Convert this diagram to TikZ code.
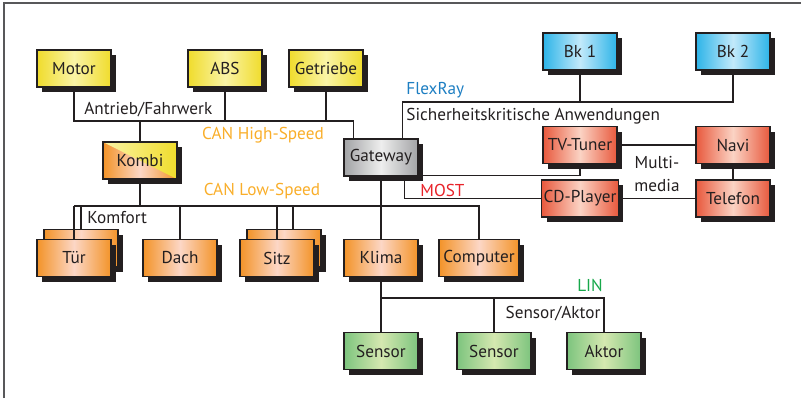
\documentclass[tikz,border=0pt]{standalone}
\usepackage{fontspec}
\setmainfont{PT Sans}
\usetikzlibrary{calc,positioning,shadows,backgrounds}
\definecolor{ink}{HTML}{231F20}
\definecolor{framegray}{HTML}{58585A}
\definecolor{shadowink}{HTML}{231F20}
\definecolor{yellowedge}{HTML}{F0DC2C}
\definecolor{yellowmid}{HTML}{FAF4A6}
\definecolor{blueedge}{HTML}{2DB4E8}
\definecolor{bluemid}{HTML}{C2E9FA}
\definecolor{rededge}{HTML}{E8593D}
\definecolor{redmid}{HTML}{FBD3C4}
\definecolor{orangeedge}{HTML}{F39328}
\definecolor{orangemid}{HTML}{FCD7C6}
\definecolor{greenedge}{HTML}{7DC47E}
\definecolor{greenmid}{HTML}{D5E8B0}
\definecolor{grayedge}{HTML}{A2A3A5}
\definecolor{graymid}{HTML}{EEEEEE}
\definecolor{canorange}{HTML}{F9AE2A}
\definecolor{flexblue}{HTML}{1D7EC2}
\definecolor{mostred}{HTML}{E82229}
\definecolor{lingreen}{HTML}{17A84B}
\tikzset{
  font=\fontsize{8.6}{11.5}\selectfont,
  bus/.style={draw=ink, line width=.6pt},
  frame/.style={draw=framegray, line width=.8pt},
  ecu/.style={draw=ink, line width=.6pt, text=ink, align=center,
    minimum width=37pt, minimum height=18.5pt, inner sep=1pt,
    drop shadow={shadow xshift=2.5pt, shadow yshift=-2.5pt,
      fill=shadowink, opacity=1}},
  yellowbox/.style={ecu, left color=yellowedge, right color=yellowedge,
    middle color=yellowmid},
  bluebox/.style={ecu, left color=blueedge, right color=blueedge,
    middle color=bluemid},
  redbox/.style={ecu, left color=rededge, right color=rededge,
    middle color=redmid},
  orangebox/.style={ecu, left color=orangeedge, right color=orangeedge,
    middle color=orangemid},
  greenbox/.style={ecu, left color=greenedge, right color=greenedge,
    middle color=greenmid},
  graybox/.style={ecu, left color=grayedge, right color=grayedge,
    middle color=graymid},
  kombibox/.style={orangebox, path picture={
    \shade[left color=yellowmid, right color=yellowedge]
      (path picture bounding box.north west)
      -- (path picture bounding box.north east)
      -- (path picture bounding box.south east) -- cycle;}},
  busname/.style={inner sep=0pt, text=ink},
  netname/.style={inner sep=0pt}
}

\begin{document}
\begin{tikzpicture}[x=0.5pt,y=-0.5pt]
  \useasboundingbox (0,0) rectangle (801,398);
  \draw[frame] (4,398) -- (4,3) -- (801,3);

  % ------------------------------------------------------------------
  % Steuergeraete
  \node[yellowbox] (motor) at (74,68.5) {Motor};
  \node[yellowbox] (abs) at (225,68.5) {ABS};
  \node[yellowbox] (getriebe) at (326,68.5) {Getriebe};
  \node[bluebox] (bk1) at (580,51.5) {Bk 1};
  \node[bluebox] (bk2) at (733,51.5) {Bk 2};
  \node[kombibox] (kombi) at (140,160.5) {Kombi};
  \node[graybox] (gateway) at (381,157.5) {Gateway};
  \node[redbox] (tvtuner) at (580,145) {TV-Tuner};
  \node[redbox] (navi) at (733,145) {Navi};
  \node[redbox] (cdplayer) at (580,198.5) {CD-Player};
  \node[redbox] (telefon) at (733,198.5) {Telefon};

  \node[orangebox] (tuerback) at (81,248) {};
  \node[orangebox] (tuer) at (74,258) {Tür};
  \node[orangebox] (dach) at (180,258) {Dach};
  \node[orangebox] (sitzback) at (284,248) {};
  \node[orangebox] (sitz) at (277,258) {Sitz};
  \node[orangebox] (klima) at (381,258) {Klima};
  \node[orangebox, minimum width=40pt] (computer) at (479,258) {Computer};

  \node[greenbox] (sensora) at (381,351) {Sensor};
  \node[greenbox] (sensorb) at (494,351) {Sensor};
  \node[greenbox] (aktor) at (604,351) {Aktor};

  % ------------------------------------------------------------------
  % Bezeichnungen
  \node[busname, anchor=west] (antrieb) at (84,110) {Antrieb/Fahrwerk};
  \node[netname, text=canorange] (canhigh) at (263,135) {CAN High-Speed};
  \node[netname, text=canorange] (canlow) at (262,191) {CAN Low-Speed};
  \node[busname, anchor=west] (komfort) at (87,218) {Komfort};
  \node[netname, text=flexblue, anchor=west] (flexray) at (406,90) {FlexRay};
  \node[busname, anchor=west] (sicher) at (406,116)
    {Sicherheitskritische Anwendungen};
  \node[netname, text=mostred, anchor=west] (most) at (420,190) {MOST};
  \node[busname, align=center] (multimedia) at (657,174) {Multi-\\media};
  \node[netname, text=lingreen] (lin) at (590,285) {LIN};
  \node[busname] (sensoraktor) at (553,314) {Sensor/Aktor};

  % ------------------------------------------------------------------
  % Busleitungen
  \coordinate (frbus) at (0,102);
  \coordinate (hsbus) at (0,121);
  \coordinate (lsbus) at (0,206);
  \coordinate (linbus) at (0,298);
  \coordinate (gwhigh) at ($(gateway.north west)+(10,0)$);
  \coordinate (gwflex) at ($(gateway.north east)+(-16,0)$);
  \coordinate (gwmost) at ($(gateway.south east)+(-14,0)$);
  \coordinate (gwtv) at ($(gateway.south east)+(0,-1)$);
  \path ([xshift=4.5pt]sitzback.north) coordinate (sitzdrop);

  \begin{scope}[on background layer]
    % CAN High-Speed
    \draw[bus] (motor.south) -- (motor.south |- hsbus) -| (gwhigh);
    \draw[bus] (abs.south) -- (abs.south |- hsbus);
    \draw[bus] (getriebe.south) -- (getriebe.south |- hsbus);
    \draw[bus] (kombi.north) -- (kombi.north |- hsbus);
    % FlexRay
    \draw[bus] (gwflex) |- (bk2.south |- frbus) -- (bk2.south);
    \draw[bus] (bk1.south) -- (bk1.south |- frbus);
    % MOST
    \draw[bus] (gwtv) -| (tvtuner.south);
    \draw[bus] (gwmost) |- (cdplayer.west);
    \draw[bus] (tvtuner.east) -- (navi.west);
    \draw[bus] (navi.south) -- (telefon.north);
    \draw[bus] (cdplayer.east) -- (telefon.west);
    % CAN Low-Speed
    \draw[bus] (kombi.south) -- (kombi.south |- lsbus);
    \draw[bus] (tuerback.north) -- (tuerback.north |- lsbus);
    \draw[bus] (tuer.north |- lsbus) -| (computer.north);
    \draw[bus] (dach.north) -- (dach.north |- lsbus);
    \draw[bus] (sitzdrop) -- (sitzdrop |- lsbus);
    \draw[bus] (gateway.south) -- (klima.north);
    % LIN
    \draw[bus] (klima.south) -- (sensora.north);
    \draw[bus] (klima.south |- linbus) -| (aktor.north);
    \draw[bus] (sensorb.north) -- (sensorb.north |- linbus);
  \end{scope}
  \draw[bus] (tuer.north) -- (tuer.north |- lsbus);
  \draw[bus] (sitz.north) -- (sitz.north |- lsbus);
\end{tikzpicture}
\end{document}
